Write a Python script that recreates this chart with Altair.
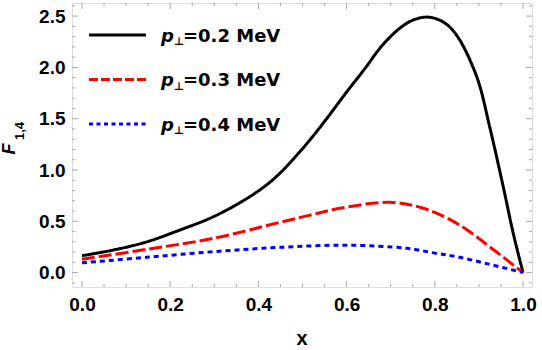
import altair as alt
import pandas as pd

# ---- curve data: F_{1,4} versus x for three transverse momenta ----
p_perp = ["0.2", "0.3", "0.4"]  # MeV
colors = ["#000000", "#ff0000", "#0000ff"]
curve_dash = [[1, 0], [13, 4], [5, 4]]
legend_dash = [[1, 0], [9, 3], [4, 3.5]]

x_02 = [0.0, 0.071, 0.147, 0.222, 0.298, 0.373, 0.42, 0.449, 0.48, 0.52, 0.56,
        0.60, 0.64, 0.68, 0.72, 0.75, 0.785, 0.82, 0.850, 0.895, 0.925, 0.955,
        0.978, 1.0]
f_02 = [0.165, 0.22, 0.30, 0.415, 0.545, 0.72, 0.86, 0.97, 1.11, 1.31, 1.53,
        1.76, 1.98, 2.21, 2.38, 2.46, 2.49, 2.44, 2.31, 1.91, 1.41, 0.84,
        0.38, 0.0]

x_03 = [0.0, 0.147, 0.298, 0.449, 0.517, 0.585, 0.698, 0.774, 0.850, 0.925, 1.0]
f_03 = [0.13, 0.227, 0.334, 0.49, 0.56, 0.627, 0.685, 0.627, 0.48, 0.25, 0.0]

x_04 = [0.0, 0.147, 0.298, 0.449, 0.60, 0.736, 0.80, 0.850, 0.92, 1.0]
f_04 = [0.095, 0.149, 0.204, 0.246, 0.267, 0.237, 0.19, 0.155, 0.085, 0.0]

# ---- axes / frame ticks ----
x_major = [0.0, 0.2, 0.4, 0.6, 0.8, 1.0]
x_minor = [0.05, 0.1, 0.15, 0.25, 0.3, 0.35, 0.45, 0.5, 0.55, 0.65, 0.7, 0.75,
           0.85, 0.9, 0.95]
y_major = [0.0, 0.5, 1.0, 1.5, 2.0, 2.5]
y_minor = [-0.1, 0.1, 0.2, 0.3, 0.4, 0.6, 0.7, 0.8, 0.9, 1.1, 1.2, 1.3, 1.4,
           1.6, 1.7, 1.8, 1.9, 2.1, 2.2, 2.3, 2.4, 2.6]

W, H = 460, 284
X_DOM = [-0.0227, 1.0204]
Y_DOM = [-0.1403, 2.6277]
FRAME = "#a8a8a8"
TICK_FONT = "Liberation Sans"
LEG_FONT = "DejaVu Sans"

rows = []
for lab, xs, ys in [(p_perp[0], x_02, f_02), (p_perp[1], x_03, f_03), (p_perp[2], x_04, f_04)]:
    for xv, yv in zip(xs, ys):
        rows.append({"series": lab, "x": xv, "F": yv})
curves_df = pd.DataFrame(rows)

xscale = alt.Scale(domain=X_DOM, nice=False, zero=False)
yscale = alt.Scale(domain=Y_DOM, nice=False, zero=False)

x_axis = alt.Axis(values=x_major, format=".1f", title=None, grid=False, domain=False,
                  ticks=False, tickSize=0, labelFont=TICK_FONT, labelFontWeight="bold",
                  labelFontSize=19, labelColor="black", labelPadding=8,
                  labelFlush=False, labelOverlap=False)
y_axis = alt.Axis(values=y_major, format=".1f", title=None, grid=False, domain=False,
                  ticks=False, tickSize=0, labelFont=TICK_FONT, labelFontWeight="bold",
                  labelFontSize=19, labelColor="black", labelPadding=7,
                  labelOverlap=False)

curves = alt.Chart(curves_df).mark_line(strokeWidth=3, interpolate="catmull-rom").encode(
    x=alt.X("x:Q", scale=xscale, axis=x_axis),
    y=alt.Y("F:Q", scale=yscale, axis=y_axis),
    color=alt.Color("series:N", scale=alt.Scale(domain=p_perp, range=colors), legend=None),
    strokeDash=alt.StrokeDash("series:N", scale=alt.Scale(domain=p_perp, range=curve_dash),
                              legend=None),
)

# inward frame ticks on all four sides
def xticks(vals, length):
    d = pd.DataFrame({"t": vals})
    base = alt.Chart(d).mark_rule(color=FRAME, strokeWidth=1)
    bottom = base.encode(x=alt.X("t:Q", scale=xscale, axis=x_axis),
                         y=alt.value(H), y2=alt.value(H - length))
    top = base.encode(x=alt.X("t:Q", scale=xscale, axis=x_axis),
                      y=alt.value(0), y2=alt.value(length))
    return [bottom, top]

def yticks(vals, length):
    d = pd.DataFrame({"t": vals})
    base = alt.Chart(d).mark_rule(color=FRAME, strokeWidth=1)
    left = base.encode(y=alt.Y("t:Q", scale=yscale, axis=y_axis),
                       x=alt.value(0), x2=alt.value(length))
    right = base.encode(y=alt.Y("t:Q", scale=yscale, axis=y_axis),
                        x=alt.value(W), x2=alt.value(W - length))
    return [left, right]

tick_layers = xticks(x_major, 6) + xticks(x_minor, 3) + yticks(y_major, 6) + yticks(y_minor, 3)

# legend in the upper-left corner
legend_layers = []
for i, lab in enumerate(p_perp):
    ly = 32 + 44.5 * i
    d = pd.DataFrame({"p": ["p"], "perp": ["\u22a5"], "rest": ["=" + lab + " MeV"]})
    base = alt.Chart(d)
    legend_layers.append(base.mark_rule(color=colors[i], strokeWidth=3,
                                        strokeDash=legend_dash[i]).encode(
        x=alt.value(17), x2=alt.value(74), y=alt.value(ly)))
    legend_layers.append(base.mark_text(font=LEG_FONT, fontSize=18, fontWeight="bold",
                                        fontStyle="italic", align="left",
                                        baseline="alphabetic", color="black").encode(
        x=alt.value(89), y=alt.value(ly + 6.7), text="p:N"))
    legend_layers.append(base.mark_text(font=LEG_FONT, fontSize=11, fontWeight="bold",
                                        align="left", baseline="alphabetic",
                                        color="black").encode(
        x=alt.value(102), y=alt.value(ly + 10), text="perp:N"))
    legend_layers.append(base.mark_text(font=LEG_FONT, fontSize=18, fontWeight="bold",
                                        align="left", baseline="alphabetic",
                                        color="black").encode(
        x=alt.value(111), y=alt.value(ly + 6.7), text="rest:N"))

# axis titles
titles_df = pd.DataFrame({"xt": ["x"], "F": ["F"], "sub": ["1,4"]})
tbase = alt.Chart(titles_df)
x_title = tbase.mark_text(font=TICK_FONT, fontSize=20, fontWeight="bold", align="center",
                          baseline="alphabetic", color="black").encode(
    x=alt.value(W / 2), y=alt.value(342), text="xt:N")
y_title_f = tbase.mark_text(font=TICK_FONT, fontSize=18, fontWeight="bold",
                            fontStyle="italic", angle=270, align="center",
                            baseline="alphabetic", color="black").encode(
    x=alt.value(-57), y=alt.value(146), text="F:N")
y_title_sub = tbase.mark_text(font=TICK_FONT, fontSize=13, fontWeight="bold", angle=270,
                              align="center", baseline="alphabetic", color="black").encode(
    x=alt.value(-48), y=alt.value(128), text="sub:N")

chart = alt.layer(
    curves, *tick_layers, *legend_layers, x_title, y_title_f, y_title_sub
).properties(
    width=W, height=H,
    autosize=alt.AutoSizeParams(type="none"),
    padding={"left": 72, "top": 3, "right": 10, "bottom": 63},
).configure_view(
    stroke=FRAME, strokeWidth=1
).configure(background="white")

chart.save("out.html", embed_options={"renderer": "svg", "actions": False})
